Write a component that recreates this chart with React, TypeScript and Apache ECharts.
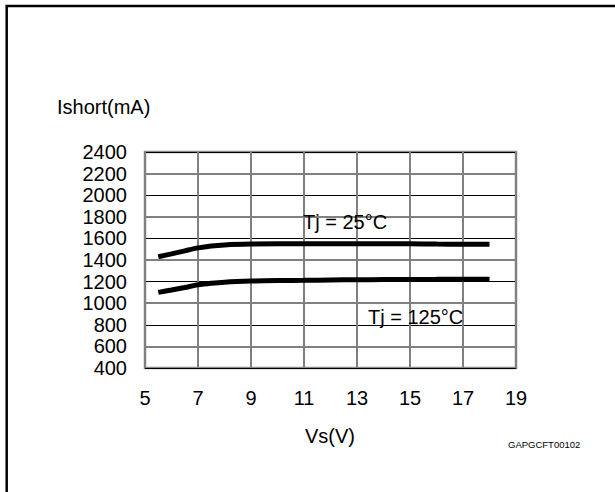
import React, { useEffect, useRef } from "react";
import * as echarts from "echarts";

const xTicks = [5, 7, 9, 11, 13, 15, 17, 19];
const yTicks = [400, 600, 800, 1000, 1200, 1400, 1600, 1800, 2000, 2200, 2400];
const grayLevels = [600, 1000, 1400, 1800, 2200];

const vs = [5.5, 6, 6.5, 7, 7.5, 8, 9, 10, 11, 12, 13, 14, 15, 16, 17, 18];
const ishort25 = [1430, 1457, 1485, 1512, 1530, 1540, 1548, 1550, 1550, 1550, 1550, 1550, 1550, 1548, 1546, 1545];
const ishort125 = [1100, 1122, 1145, 1170, 1185, 1195, 1205, 1210, 1212, 1215, 1217, 1219, 1220, 1221, 1222, 1222];

const FONT = "'Liberation Sans', Arial, sans-serif";

export default function App() {
  const ref = useRef<HTMLDivElement>(null);
  useEffect(() => {
    if (!ref.current) return;
    const chart = echarts.init(ref.current, null, { renderer: "svg" });
    chart.setOption({
      animation: false,
      backgroundColor: "#fff",
      grid: {
        left: 145,
        right: 99,
        top: 152,
        bottom: 124,
        show: true,
        borderColor: "#8a8a8a",
        borderWidth: 2.5,
        containLabel: false,
      },
      xAxis: {
        type: "value",
        min: xTicks[0],
        max: xTicks[xTicks.length - 1],
        interval: 2,
        axisLine: { show: false },
        axisTick: { show: false },
        axisLabel: { color: "#000", fontSize: 20, fontFamily: FONT, margin: 20, formatter: (v: number) => String(v) },
        splitLine: { show: true, lineStyle: { color: "#808080", width: 2 } },
      },
      yAxis: {
        type: "value",
        min: yTicks[0],
        max: yTicks[yTicks.length - 1],
        interval: 200,
        axisLine: { show: false },
        axisTick: { show: false },
        axisLabel: { color: "#000", fontSize: 20, fontFamily: FONT, margin: 18, formatter: (v: number) => String(v) },
        splitLine: { show: true, lineStyle: { color: "#000", width: 1 } },
      },
      series: [
        {
          type: "line",
          name: "grid",
          data: [],
          silent: true,
          markLine: {
            silent: true,
            symbol: ["none", "none"],
            label: { show: false },
            lineStyle: { color: "#808080", width: 2, type: "solid" },
            data: grayLevels.map((v) => ({ yAxis: v })),
          },
        },
        {
          type: "line",
          name: "Tj = 25°C",
          data: vs.map((x, i) => [x, ishort25[i]]),
          showSymbol: false,
          smooth: 0.3,
          lineStyle: { color: "#000", width: 5 },
          z: 5,
        },
        {
          type: "line",
          name: "Tj = 125°C",
          data: vs.map((x, i) => [x, ishort125[i]]),
          showSymbol: false,
          smooth: 0.3,
          lineStyle: { color: "#000", width: 5 },
          z: 5,
        },
      ],
      graphic: [
        {
          type: "polyline",
          shape: { points: [[6.7, 492], [6.7, 6], [615, 6]] },
          style: { stroke: "#000", lineWidth: 2.5, fill: null },
          silent: true,
        },
        {
          type: "text",
          x: 57,
          y: 107,
          style: { text: "Ishort(mA)", font: `20px ${FONT}`, fill: "#000", textAlign: "left", textVerticalAlign: "middle" },
        },
        {
          type: "text",
          x: 330,
          y: 436,
          style: { text: "Vs(V)", font: `20px ${FONT}`, fill: "#000", textAlign: "center", textVerticalAlign: "middle" },
        },
        {
          type: "text",
          x: 508,
          y: 444.5,
          style: { text: "GAPGCFT00102", font: `9.5px ${FONT}`, fill: "#000", textAlign: "left", textVerticalAlign: "middle" },
        },
        {
          type: "text",
          x: 303,
          y: 221.5,
          z: 10,
          style: { text: "Tj = 25°C", font: `20px ${FONT}`, fill: "#000", textAlign: "left", textVerticalAlign: "middle" },
        },
        {
          type: "text",
          x: 368,
          y: 316.5,
          z: 10,
          style: { text: "Tj = 125°C", font: `20px ${FONT}`, fill: "#000", textAlign: "left", textVerticalAlign: "middle" },
        },
      ],
    });
    return () => chart.dispose();
  }, []);
  return (
    <div
      ref={ref}
      style={{ position: "absolute", left: 0, top: 0, width: 615, height: 492 }}
    />
  );
}
